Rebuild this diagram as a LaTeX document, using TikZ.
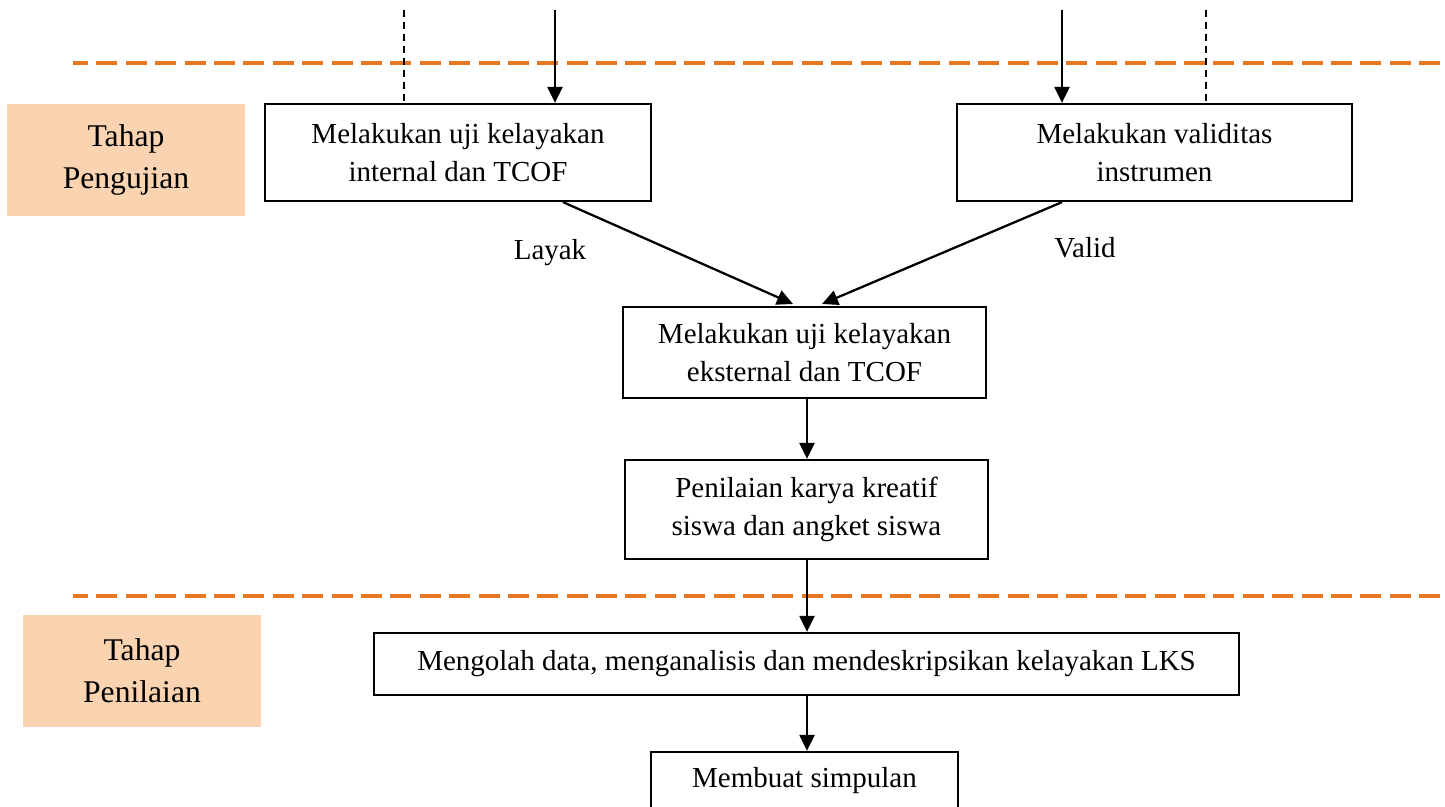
\documentclass[tikz,border=0pt]{standalone}
\usepackage{fontspec}
\setmainfont{Liberation Serif}
\usetikzlibrary{arrows.meta}
\definecolor{peach}{HTML}{FAD3B0}
\definecolor{orangeline}{HTML}{E87722}
\tikzset{
  box/.style={draw, line width=1.3pt, align=center, inner sep=0pt, font=\fontsize{16.5}{22}\selectfont},
  stage/.style={fill=peach, align=center, inner sep=0pt, font=\fontsize{18}{24}\selectfont},
  arr/.style={line width=1.3pt, -{Triangle[length=0.32cm, width=0.3cm]}},
  thindash/.style={line width=0.6pt, dash pattern=on 0.14cm off 0.1cm},
  sep/.style={orangeline, line width=1.8pt, dash pattern=on 0.42cm off 0.168cm, dash phase=0.12cm},
  lbl/.style={font=\fontsize{16.5}{22}\selectfont}
}
\begin{document}
\begin{tikzpicture}[x=0.02cm, y=-0.02cm]
\useasboundingbox (0,0) rectangle (1445,807);
% separators
\coordinate (sepA) at (73,63);
\coordinate (sepAe) at (1445,63);
\coordinate (sepB) at (73,596);
\coordinate (sepBe) at (1445,596);
\draw[sep] (sepA) -- (sepAe);
\draw[sep] (sepB) -- (sepBe);
% stage labels
\node[stage, minimum width=4.76cm, minimum height=2.24cm] (st1) at (126,160) {Tahap\\Pengujian};
\node[stage, minimum width=4.76cm, minimum height=2.24cm] (st2) at (142,671) {Tahap\\Penilaian};
% boxes
\node[box, minimum width=7.72cm, minimum height=1.94cm] (b1) at (458,152.5) {Melakukan uji kelayakan\\internal dan TCOF};
\node[box, minimum width=7.9cm, minimum height=1.94cm] (b2) at (1154.5,152.5) {Melakukan validitas\\instrumen};
\node[box, minimum width=7.26cm, minimum height=1.82cm] (b3) at (804.5,352.5) {Melakukan uji kelayakan\\eksternal dan TCOF};
\node[box, minimum width=7.26cm, minimum height=1.98cm] (b4) at (806.5,509.5) {Penilaian karya kreatif\\siswa dan angket siswa};
\node[box, minimum width=17.3cm, minimum height=1.24cm] (b5) at (806.5,664) {Mengolah data, menganalisis dan mendeskripsikan kelayakan LKS};
\node[box, minimum width=6.14cm, minimum height=1.16cm] (b6) at (804.5,781) {Membuat simpulan};
% incoming from above
\coordinate (t1) at (555,10);
\coordinate (t2) at (1062,10);
\coordinate (d1) at (404,10);
\coordinate (d2) at (1206,10);
\draw[arr] (t1) -- (t1 |- b1.north);
\draw[arr] (t2) -- (t2 |- b2.north);
\draw[thindash] (d1) -- (d1 |- b1.north);
\draw[thindash] (d2) -- (d2 |- b2.north);
% diagonal arrows
\coordinate (s1) at (563,0);
\coordinate (s2) at (1062,0);
\coordinate (e1) at (793,304);
\coordinate (e2) at (822,304);
\draw[arr] (s1 |- b1.south) -- (e1);
\draw[arr] (s2 |- b2.south) -- (e2);
\node[lbl] (layak) at (550,253) {Layak};
\node[lbl] (valid) at (1085,248) {Valid};
% vertical chain
\coordinate (c) at (807,0);
\draw[arr] (c |- b3.south) -- (c |- b4.north);
\draw[arr] (c |- b4.south) -- (c |- b5.north);
\draw[arr] (c |- b5.south) -- (c |- b6.north);
\end{tikzpicture}
\end{document}
